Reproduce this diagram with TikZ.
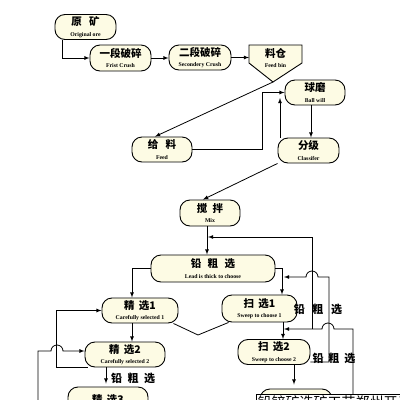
\documentclass[tikz,border=0pt]{standalone}
\usepackage{fontspec}
\setmainfont{Liberation Serif}
\newfontfamily\cjk{Noto Sans CJK SC}
\usepackage{xcolor}
\usetikzlibrary{arrows,calc}
\definecolor{cream}{RGB}{253,251,228}
\newcommand{\zh}[1]{{\cjk\bfseries\fontsize{10.5}{12}\selectfont #1}}
\newcommand{\en}[1]{{\bfseries\fontsize{5.8}{6.5}\selectfont #1}}
\newcommand{\stagetext}[2]{\zh{#1}\\[-1.5pt]\en{#2}}
\tikzset{
	stage/.style={draw=black, line width=0.9pt, fill=cream, rounded corners=10pt,
			minimum width=#1, minimum height=25pt, inner sep=0pt, align=center},
	flow/.style={->, >=latex, line width=0.8pt},
	pipe/.style={line width=0.8pt},
	tag/.style={font=\cjk\bfseries\fontsize{11}{12}\selectfont}
}

\begin{document}
\begin{tikzpicture}[x=1pt, y=-1pt]
	\clip (0,0) rectangle (400,400);

	% Crushing stages
	\node (ore) at (85.5, 27) [stage=61pt] {\stagetext{原\hspace{0.7em}矿}{Original ore}};
	\node (crush1) at (120.5, 58) [stage=61pt, minimum height=26pt] {\stagetext{一段破碎}{Frist Crush}};
	\node (crush2) at (200, 57.5) [stage=62pt] {\stagetext{二段破碎}{Secondery Crush}};

	% Feed bin, pointed at the bottom
	\coordinate (binw) at (249, 57.5);
	\coordinate (bintip) at (273, 82);
	\filldraw[fill=cream, line width=0.9pt] (249,45) -- (302,45) -- (302,63) -- (bintip) -- (249,63) -- cycle;
	\node (bin) at (275.5, 58) [align=center, inner sep=0pt] {\stagetext{料仓}{Feed bin}};

	% Grinding
	\node (mill) at (315, 92.5) [stage=60pt] {\stagetext{球磨}{Ball will}};
	\node (feed) at (162, 149.5) [stage=60pt] {\stagetext{给\hspace{0.7em}料}{Feed}};
	\node (cls) at (308.5, 150.5) [stage=61pt] {\stagetext{分级}{Classifer}};

	% Flotation
	\node (mix) at (210, 213) [stage=60pt, minimum height=26pt] {\stagetext{搅\hspace{0.5em}拌}{Mix}};
	\node (rough) at (213, 268.5) [stage=124pt, minimum height=27pt] {\stagetext{铅\hspace{0.6em}粗\hspace{0.6em}选}{Lead is thick to choose}};
	\node (cln1) at (140, 310.5) [stage=76pt] {\stagetext{精\hspace{0.4em}选1}{Carefully selected 1}};
	\node (cln2) at (125, 354.5) [stage=80pt] {\stagetext{精\hspace{0.4em}选2}{Carefully selected 2}};
	\node (cln3) at (108, 400) [stage=80pt, minimum height=26pt] {\zh{精\hspace{0.4em}选3}};
	\node (sw1) at (259.5, 308.5) [stage=75pt, minimum height=27pt] {\stagetext{扫\hspace{0.4em}选1}{Sweep to choose 1}};
	\node (sw2) at (274, 352) [stage=72pt] {\stagetext{扫\hspace{0.4em}选2}{Sweep to choose 2}};
	\node (sw3) at (296, 402) [stage=72pt, minimum height=26pt] {\zh{扫\hspace{0.4em}选3}};

	% Crushing line
	\draw[flow] ([xshift=-23.5pt]ore.south) |- (crush1.west);
	\draw[flow] (crush1.east) -- (crush1.east -| crush2.west);
	\draw[flow] (crush2.east) -- (binw);

	% Grinding circuit
	\coordinate (millin) at (280, 98);
	\draw[flow] (bintip) -- ([xshift=-7pt]feed.north);
	\draw[flow] (feed.east) -- ++(70,0) |- (mill.west);
	\draw[flow] ([xshift=-4pt]mill.south) -- ([xshift=-4pt]mill.south |- cls.north);
	\draw[flow] (cls.north -| millin) -- (millin);
	\draw[flow] (cls.south west) -- ([xshift=-7pt]mix.north);

	% Roughing
	\coordinate (mixout) at (208, 237);
	\draw[flow] ([xshift=-3pt]mix.south) -- ([xshift=-3pt]mix.south |- rough.north);
	\draw[flow] (rough.east) -| ([xshift=22.5pt]sw1.north);
	\draw[flow] (rough.west) -| ([xshift=-8pt]cln1.north);

	% Cleaning
	\coordinate (lfoot) at (38, 402);
	\coordinate (vjoin) at (198, 335);
	\draw[flow] ([xshift=-8pt]cln1.south) -- ([xshift=-8pt]cln1.south |- cln2.north);
	\draw[flow] ([xshift=3pt]cln2.south west) -- ++(-31,0) |- (cln1.west);
	\draw[flow] (lfoot) -- (38, 351) -- (51, 351) arc (180:360:6) -- ([yshift=3.5pt]cln2.west);
	\draw[flow, shorten >=3pt] ([xshift=-19pt]cln2.south) -- ([xshift=-19pt]cln2.south |- cln3.north);
	\node (tag3) at (133, 378) [tag] {铅\hspace{0.5em}粗\hspace{0.5em}选};
	\draw[pipe] ([xshift=-5pt]cln1.south east) -- (vjoin) -- ([xshift=7pt]sw1.south west);

	% Scavenging
	\draw[flow] ([xshift=23.5pt]sw1.south) -- ([xshift=23.5pt]sw1.south |- sw2.north);
	\draw[flow, shorten >=4pt] ([xshift=20pt]sw2.south) -- ([xshift=20pt]sw2.south |- sw3.north);

	% Returns
	\coordinate (ret1) at (312, 329);
	\coordinate (ret2) at (329, 362);
	\coordinate (ret3) at (353, 402);
	\draw[flow] (ret1) |- (mixout);
	\draw[flow] ([yshift=-10pt]sw2.east) -- (ret2) -- (329, 277) -- (318, 277) arc (0:-180:6) -- (284, 277);
	\draw[flow] (ret3) -- (353, 329) -- (334, 329) arc (0:-180:6) -- (284, 329);
	\node (tag1) at (318, 309) [tag] {铅\hspace{0.7em}粗\hspace{0.7em}选};
	\node (tag2) at (334, 358) [tag] {铅\hspace{0.45em}粗\hspace{0.45em}选};

	% Caption box, cut by the page edge
	\node (note) at (256, 394) [anchor=north west, draw, line width=0.5pt, fill=white, inner sep=1.5pt,
		font=\cjk\fontsize{14}{16}\selectfont] {铅锌矿选矿工艺郑州开元科技};
\end{tikzpicture}
\end{document}
